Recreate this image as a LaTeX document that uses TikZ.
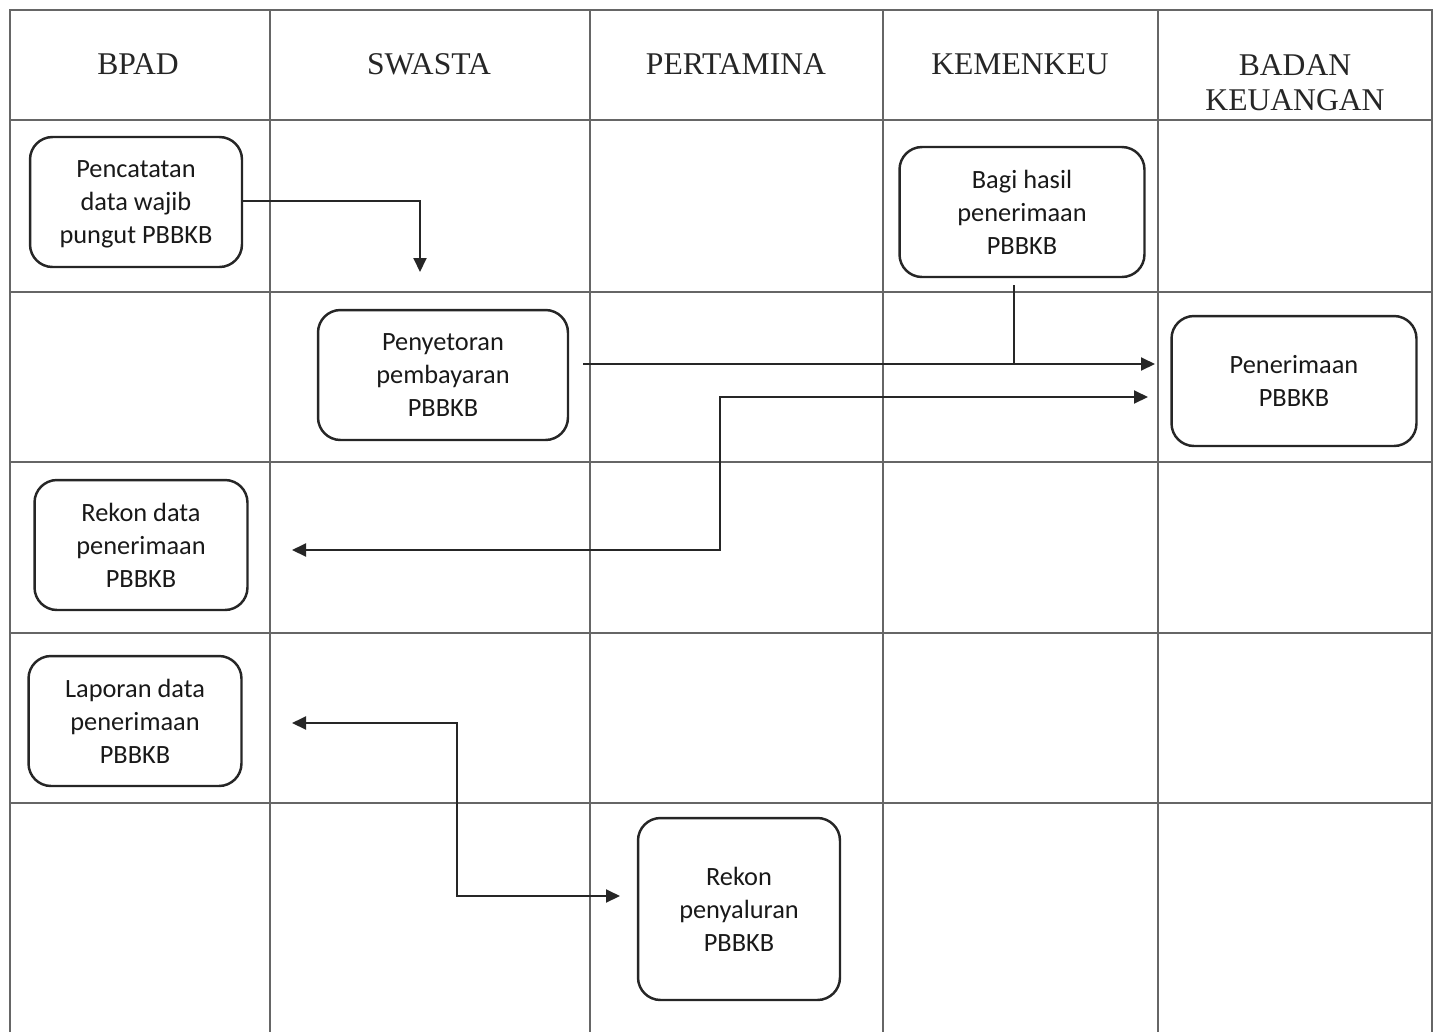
\documentclass[tikz,border=0pt]{standalone}
\usepackage{fontspec}
\setmainfont{Liberation Serif}
\newfontfamily\calibrifont{Carlito}
\usetikzlibrary{arrows.meta}

\begin{document}
\begin{tikzpicture}[x=0.02cm, y=-0.02cm,
        >={Triangle[length=0.28cm, width=0.26cm]},
        lane/.style={draw=black!60, line width=0.7pt},
        head/.style={font=\fontsize{18}{20}\selectfont, text=black!85, align=center},
        proc/.style={draw=black!85, line width=1.4pt, rounded corners=0.45cm, align=center,
            font=\calibrifont\fontsize{15}{18.8}\selectfont, text=black!90, text depth=0pt,
            minimum width=4.24cm, minimum height=2.6cm, inner sep=0pt},
        flow/.style={draw=black!85, line width=1.1pt}]
        \useasboundingbox (0,0) rectangle (1441,1032);
        % swimlane grid
        \draw[lane] (10,1032) -- (10,10) -- (1432,10) -- (1432,1032);
        \draw[lane] (270,10) -- (270,1032);
        \draw[lane] (590,10) -- (590,1032);
        \draw[lane] (883,10) -- (883,1032);
        \draw[lane] (1158,10) -- (1158,1032);
        \draw[lane] (10,120) -- (1432,120);
        \draw[lane] (10,292) -- (1432,292);
        \draw[lane] (10,462) -- (1432,462);
        \draw[lane] (10,633) -- (1432,633);
        \draw[lane] (10,803) -- (1432,803);
        % lane titles
        \node[head] (bpad) at (138,64) {BPAD};
        \node[head] (swasta) at (429,64) {SWASTA};
        \node[head] (pertamina) at (736,64) {PERTAMINA};
        \node[head] (kemenkeu) at (1020,64) {KEMENKEU};
        \node[head] (badan) at (1295,83) {BADAN\\KEUANGAN};
        % process boxes
        \node[proc] (pencatatan) at (136,202) {Pencatatan\\data wajib\\pungut PBBKB};
        \node[proc, minimum width=4.9cm] (bagihasil) at (1022,212) {Bagi hasil\\penerimaan\\PBBKB};
        \node[proc, minimum width=5cm] (penyetoran) at (443,375) {Penyetoran\\pembayaran\\PBBKB};
        \node[proc, minimum width=4.9cm] (penerimaan) at (1294,381) {Penerimaan\\PBBKB};
        \node[proc, minimum width=4.26cm] (rekondata) at (141,545) {Rekon data\\penerimaan\\PBBKB};
        \node[proc, minimum width=4.26cm] (laporan) at (135,721) {Laporan data\\penerimaan\\PBBKB};
        \node[proc, minimum width=4.04cm, minimum height=3.64cm] (rekonsalur) at (739,909) {Rekon\\penyaluran\\PBBKB};
        % connector ends
        \coordinate (catatEnd) at (420,272);
        \coordinate (setorOut) at (583,364);
        \coordinate (terimaIn) at (1155,364);
        \coordinate (bagiOut) at (1014,285);
        \coordinate (bagiJoin) at (1014,364);
        \coordinate (rekonIn) at (292,550);
        \coordinate (rekonBend) at (720,550);
        \coordinate (terimaIn2) at (1148,397);
        \coordinate (lapIn) at (292,723);
        \coordinate (lapBend) at (457,723);
        \coordinate (salurIn) at (620,896);
        % flows
        \draw[flow, ->] (pencatatan.east |- 0,201) -| (catatEnd);
        \draw[flow, ->] (setorOut) -- (terimaIn);
        \draw[flow] (bagiOut) -- (bagiJoin);
        \draw[flow, <->] (rekonIn) -- (rekonBend) |- (terimaIn2);
        \draw[flow, <->] (lapIn) -- (lapBend) |- (salurIn);
    \end{tikzpicture}
\end{document}
